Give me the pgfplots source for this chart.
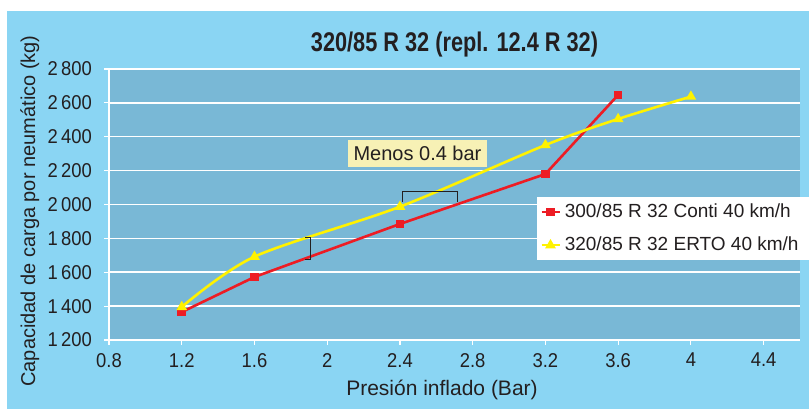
\documentclass[border=0pt]{standalone}
\usepackage{fontspec}
\setmainfont{Liberation Sans}
\newfontfamily\condfont[FakeStretch=0.92]{Liberation Sans}
\newfontfamily\titlefont[FakeStretch=0.805]{Liberation Sans Bold}
\usepackage{pgfplots}
\pgfplotsset{compat=1.18}
\definecolor{bgblue}{HTML}{8AD5F3}
\definecolor{plotblue}{HTML}{79B8D6}
\definecolor{cred}{HTML}{ED1C24}
\definecolor{cyellow}{HTML}{FFF200}
\definecolor{boxyellow}{HTML}{F7F1B5}
\definecolor{txt}{HTML}{231F20}
\begin{document}
\begin{tikzpicture}
\fill[white] (0bp,0bp) rectangle (809bp,409bp);
\fill[bgblue] (7bp,0bp) rectangle (809bp,398bp);
\useasboundingbox (0bp,0bp) rectangle (809bp,409bp);
\begin{axis}[
  at={(109bp,69bp)}, anchor=south west,
  scale only axis, width=691bp, height=271bp,
  xmin=0.8, xmax=4.6, ymin=1200, ymax=2800,
  xtick={0.8,1.2,1.6,2,2.4,2.8,3.2,3.6,4,4.4},
  ytick={1200,1400,1600,1800,2000,2200,2400,2600,2800},
  xticklabels={0.8,1.2,1.6,2,2.4,2.8,3.2,3.6,4,4.4},
  /pgf/number format/1000 sep={\,},
  /pgf/number format/assume math mode=true,
  tick label style={font=\condfont\fontsize{20bp}{24bp}\selectfont, text=txt},
  yticklabel style={anchor=east, inner sep=0pt, xshift=-12bp},
  xticklabel style={anchor=north, inner sep=0pt, yshift=-8bp},
  axis background/.style={fill=plotblue},
  axis x line*=bottom, axis y line*=left,
  axis line style={draw=white, line width=2bp, -},
  tick align=outside, major tick length=5bp,
  tick style={draw=white, line width=1.2bp},
  ymajorgrids, major grid style={draw=white, line width=1.5bp},
  legend style={at={(0.6194,0.5277)}, anchor=north west, fill=white, draw=none,
    inner xsep=3bp, inner ysep=2bp, row sep=7bp, /tikz/column sep=2bp,
    font=\fontsize{19bp}{22bp}\selectfont, text=txt,
    nodes={inner xsep=2bp, inner ysep=4bp, text height=14bp, text depth=4bp}},
  legend cell align=left,
  legend image code/.code={\draw[#1, mark repeat=2, mark phase=2] plot coordinates {(0bp,0bp) (9bp,0bp) (18bp,0bp)};},
]
\addplot[cred, line width=2.6bp, mark=square*, mark size=3bp, mark options={solid}]
 coordinates {(1.2,1365) (1.6,1572) (2.4,1885) (3.2,2180) (3.6,2647)};
\addlegendentry{\makebox[242bp][l]{300/85 R 32 Conti 40 km/h}}
\addplot[cyellow, line width=2.6bp, smooth, tension=0.5, mark=triangle*, mark size=3.6bp, mark options={solid}]
 coordinates {(1.2,1395) (1.6,1692) (2.4,1987) (3.2,2351) (3.6,2505) (4.0,2637)};
\addlegendentry{\makebox[242bp][l]{320/85 R 32 ERTO 40 km/h}}
\draw[txt, line width=1.1bp] (axis cs:1.880,1804) -- (axis cs:1.908,1804) -- (axis cs:1.908,1674) -- (axis cs:1.880,1674);
\draw[txt, line width=1.1bp] (axis cs:2.415,2012) -- (axis cs:2.415,2077) -- (axis cs:2.718,2077) -- (axis cs:2.718,2012);
\end{axis}
\node[fill=boxyellow, minimum width=139bp, minimum height=27bp, inner sep=0pt, text=txt,
  font=\fontsize{20bp}{24bp}\selectfont] at (417.5bp,255.5bp) {Menos 0.4 bar};
\node[anchor=base, text=txt, font=\titlefont\fontsize{27bp}{30bp}\selectfont] at (454.5bp,357.3bp) {320/85 R 32 (repl. 12.4 R 32)};
\node[anchor=base, text=txt, font=\fontsize{21bp}{25bp}\selectfont] at (442bp,14bp) {Presión inflado (Bar)};
\node[anchor=base, rotate=90, text=txt, font=\fontsize{20bp}{24bp}\selectfont] at (35bp,198bp) {Capacidad de carga por neumático (kg)};
\end{tikzpicture}
\end{document}
